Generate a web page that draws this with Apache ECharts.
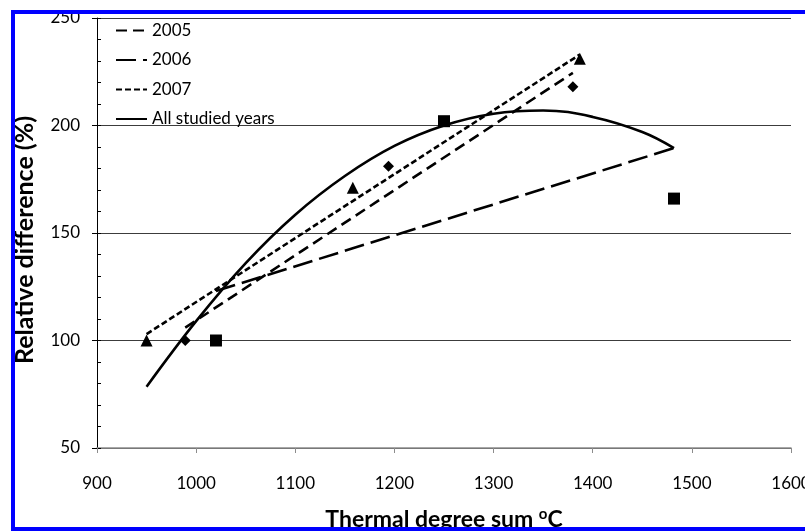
<!DOCTYPE html>
<html>
<head>
<meta charset="utf-8">
<script src="https://cdn.jsdelivr.net/npm/echarts@6/dist/echarts.min.js"></script>
<style>html,body{margin:0;padding:0;background:#fff;}#c{width:805px;height:531px;}</style>
</head>
<body>
<div id="c"></div>
<script>
// tick labels
const xTicks = [900, 1000, 1100, 1200, 1300, 1400, 1500, 1600];
const yTicks = [50, 100, 150, 200, 250];
// observed points
const obs2005 = [[989, 100], [1194, 181], [1380, 218]];
const obs2006 = [[1020, 100], [1250, 202], [1482, 166]];
const obs2007 = [[950, 100], [1158, 171], [1387, 231]];
// fitted lines
const fit2005 = [[989, 106], [1380, 224.5]];
const fit2006 = [[1020, 123], [1482, 189.5]];
const fit2007 = [[950, 103], [1387, 233]];
const fitAll = [[950, 78.5], [1000, 109], [1050, 136], [1100, 158.5], [1150, 176.5], [1200, 190.5],
                [1250, 200], [1300, 205.5], [1350, 207], [1400, 204], [1450, 197], [1482, 189.5]];
const legendNames = ['2005', '2006', '2007', 'All studied years'];

const FONT = 'Lato';
const chart = echarts.init(document.getElementById('c'), null, {renderer: 'canvas'});
const lineW = 2.6;
function lineSeries(name, data, type, smooth) {
  return {
    name: name, type: 'line', data: data, symbol: 'none', smooth: smooth || false,
    lineStyle: {color: '#000', width: lineW, type: type}, itemStyle: {color: '#000'},
    z: 3, silent: true
  };
}
function scatterSeries(data, symbol, size) {
  return {
    type: 'scatter', data: data, symbol: symbol, symbolSize: size,
    itemStyle: {color: '#000', opacity: 1}, z: 4, silent: true
  };
}
const option = {
  backgroundColor: '#fff',
  animation: false,
  grid: {left: 97, right: 14, top: 18, bottom: 83, containLabel: false, outerBoundsMode: 'none'},
  legend: {
    data: legendNames, orient: 'vertical', left: 110, top: 17,
    itemWidth: 31, itemHeight: 14, itemGap: 12.5,
    itemStyle: {opacity: 0, borderWidth: 0},
    textStyle: {fontFamily: FONT, fontSize: 17, color: '#000'},
    selectedMode: false
  },
  xAxis: {
    type: 'value', min: xTicks[0], max: xTicks[xTicks.length - 1], interval: 100,
    name: 'Thermal degree sum {s|o}C', nameLocation: 'middle', nameGap: 59,
    nameTextStyle: {fontFamily: FONT, fontSize: 23, fontWeight: 'bold', color: '#000',
      rich: {s: {fontFamily: FONT, fontSize: 15, fontWeight: 'bold', color: '#000', verticalAlign: 'top', padding: [0, 0, 11, 0]}}},
    axisLine: {show: true, onZero: false, lineStyle: {color: '#8c8c8c', width: 1.5}},
    axisTick: {show: true, length: 5, lineStyle: {color: '#8c8c8c', width: 1}},
    axisLabel: {fontFamily: FONT, fontSize: 17, color: '#000', margin: 27, formatter: v => String(v)},
    splitLine: {show: false}
  },
  yAxis: [{
    type: 'value', min: yTicks[0], max: yTicks[yTicks.length - 1], interval: 50,
    name: 'Relative difference (%)', nameLocation: 'middle', nameGap: 60, nameRotate: 90,
    nameTextStyle: {fontFamily: FONT, fontSize: 25, fontWeight: 'bold', color: '#000', padding: [0, 14, 0, 0]},
    axisLine: {show: true, onZero: false, lineStyle: {color: '#000', width: 1}},
    axisTick: {show: true, length: 5, lineStyle: {color: '#000', width: 1}},
    axisLabel: {fontFamily: FONT, fontSize: 17, color: '#000', margin: 17, formatter: v => String(v)},
    splitLine: {show: true, lineStyle: {color: '#3c3c3c', width: 1}}
  }, {
    type: 'value', min: yTicks[0], max: yTicks[yTicks.length - 1], interval: 10,
    position: 'left', offset: 0,
    axisLine: {show: false}, axisLabel: {show: false}, splitLine: {show: false},
    axisTick: {show: true, inside: true, length: 4, lineStyle: {color: '#000', width: 1}}
  }],
  series: [
    lineSeries('2005', fit2005, [11, 6]),
    lineSeries('2006', fit2006, [20, 7]),
    lineSeries('2007', fit2007, [6, 3]),
    lineSeries('All studied years', fitAll, 'solid', 0.4),
    scatterSeries(obs2005, 'diamond', [11, 11]),
    scatterSeries(obs2006, 'rect', [12, 12]),
    scatterSeries(obs2007, 'triangle', [12, 12])
  ],
  graphic: [{
    type: 'rect', z: 100, silent: true,
    shape: {x: 13, y: 12, width: 900, height: 517},
    style: {fill: 'none', stroke: '#0000ff', lineWidth: 4}
  }]
};
chart.setOption(option);
</script>
</body>
</html>
